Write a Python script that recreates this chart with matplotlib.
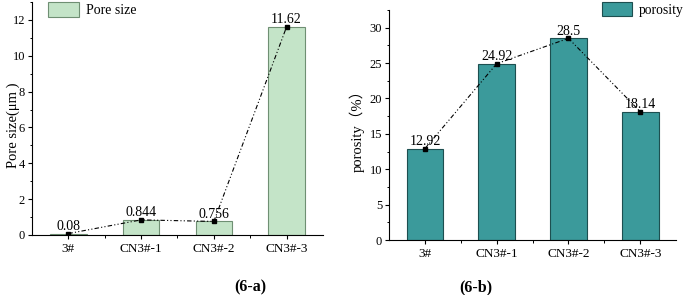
import numpy as np
import matplotlib.pyplot as plt
from matplotlib.ticker import MultipleLocator, FixedLocator

plt.rcParams['font.family'] = ['Liberation Serif', 'Noto Sans CJK SC', 'DejaVu Sans']

# data
samples = ['3#', 'CN3#-1', 'CN3#-2', 'CN3#-3']
pore_size = [0.08, 0.844, 0.756, 11.62]
pore_labels = ['0.08', '0.844', '0.756', '11.62']
porosity = [12.92, 24.92, 28.5, 18.14]
porosity_labels = ['12.92', '24.92', '28.5', '18.14']

x = np.arange(len(samples))

fig = plt.figure(figsize=(6.85, 2.95), dpi=100)
ax1 = fig.add_axes([0.0467, 0.2034, 0.4248, 0.7896])
ax2 = fig.add_axes([0.568, 0.1864, 0.419, 0.7796])


def style_axes(ax, ymax, major, minor):
    ax.set_xlim(-0.5, 3.5)
    ax.set_ylim(0, ymax)
    ax.spines['top'].set_visible(False)
    ax.spines['right'].set_visible(False)
    ax.set_xticks(x)
    ax.set_xticklabels(samples)
    ax.xaxis.set_minor_locator(FixedLocator([0.5, 1.5, 2.5]))
    ax.yaxis.set_major_locator(MultipleLocator(major))
    ax.yaxis.set_minor_locator(MultipleLocator(minor))
    ax.tick_params(axis='both', which='major', direction='out', length=3, width=0.8, pad=2)
    ax.tick_params(axis='x', which='major', labelsize=9.5, pad=3)
    ax.tick_params(axis='y', which='major', labelsize=9)
    ax.tick_params(axis='both', which='minor', direction='out', length=1.8, width=0.7)


# (6-a) pore size
ax1.bar(x, pore_size, width=0.5, color='#c4e4c8', edgecolor='#6f8f73', linewidth=0.8, label='Pore size')
ax1.plot(x, pore_size, color='black', linestyle=(0, (4, 2, 1, 2, 1, 2)), linewidth=0.8,
         marker='s', markersize=3.5)
for xi, v, t in zip(x, pore_size, pore_labels):
    ax1.text(xi, v + 0.05, t, ha='center', va='bottom', fontsize=10)
style_axes(ax1, 13, 2, 1)
ax1.set_ylabel('Pore size(μm )', fontsize=10.5)
ax1.yaxis.set_label_coords(-0.041, 0.47)
ax1.legend(loc='upper left', bbox_to_anchor=(0.037, 1.022), frameon=False, fontsize=10,
           handlelength=2.2, handleheight=1.2, handletextpad=0.5, borderaxespad=0)

# (6-b) porosity
ax2.bar(x, porosity, width=0.51, color='#3b9a9b', edgecolor='#1d4f50', linewidth=0.8, label='porosity')
ax2.plot(x, porosity, color='black', linestyle=(0, (4, 2, 1, 2, 1, 2)), linewidth=0.8,
         marker='s', markersize=3.5)
for xi, v, t in zip(x, porosity, porosity_labels):
    ax2.text(xi, v + 0.1, t, ha='center', va='bottom', fontsize=10)
style_axes(ax2, 32.5, 5, 2.5)
ax2.set_ylabel('porosity（%）', fontsize=10.5)
ax2.yaxis.set_label_coords(-0.084, 0.49)
ax2.legend(loc='upper left', bbox_to_anchor=(0.722, 1.057), frameon=False, fontsize=9.8,
           handlelength=2.2, handleheight=1.2, handletextpad=0.5, borderaxespad=0)

fig.text(0.366, 0.027, '(6-a)', ha='center', va='center', fontsize=11.5, fontweight='bold')
fig.text(0.694, 0.027, '(6-b)', ha='center', va='center', fontsize=11.5, fontweight='bold')

fig.savefig('out.png', dpi=100)
